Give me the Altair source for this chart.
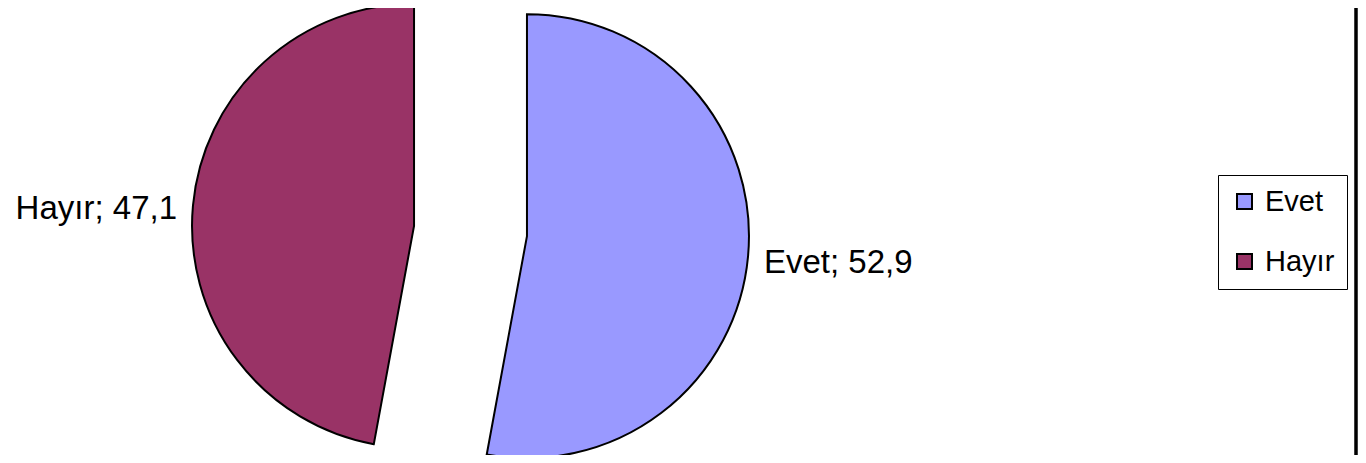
import altair as alt
import pandas as pd

categories = ["Evet", "Hayır"]
values = [52.9, 47.1]
label_texts = ["Evet; 52,9", "Hayır; 47,1"]
colors = ["#9999FF", "#993366"]
order = [0, 1]

W, H = 1350, 447
CX, CY = 462.5, 223
EXPLODE = 56.7
R = 222
LABEL_R = EXPLODE + 238
FONT = "Liberation Sans"

df = pd.DataFrame({"cat": categories, "value": values, "label": label_texts, "order": order})

base = (
    alt.Chart(df)
    .transform_window(cum="sum(value)", sort=[alt.SortField("order")], frame=[None, 0])
    .transform_joinaggregate(total="sum(value)")
    .transform_calculate(
        t1="datum.cum / datum.total * 2 * PI",
        t0="(datum.cum - datum.value) / datum.total * 2 * PI",
    )
    .transform_calculate(mid="(datum.t0 + datum.t1) / 2")
    .transform_calculate(
        px=f"{CX} + {EXPLODE} * sin(datum.mid)",
        py=f"{CY} - {EXPLODE} * cos(datum.mid)",
        lx=f"{CX} + {LABEL_R} * sin(datum.mid)",
        ly=f"{CY} - {LABEL_R} * cos(datum.mid) + 15",
        side="sin(datum.mid) >= 0 ? 'right' : 'left'",
    )
)

color = alt.Color(
    "cat:N",
    scale=alt.Scale(domain=categories, range=colors),
    legend=alt.Legend(
        orient="none",
        legendX=1210,
        legendY=167,
        title=None,
        strokeColor="black",
        fillColor="transparent",
        zindex=0,
        padding=12,
        symbolType="square",
        symbolSize=225,
        symbolStrokeColor="black",
        symbolStrokeWidth=2,
        symbolOpacity=1,
        labelFontSize=29,
        labelFont=FONT,
        labelColor="black",
        rowPadding=30,
        labelOffset=6,
    ),
)

arcs = base.mark_arc(radius=R, stroke="black", strokeWidth=2).encode(
    theta=alt.Theta("t0:Q", scale=None, stack=False),
    theta2="t1:Q",
    x=alt.X("px:Q", scale=None),
    y=alt.Y("py:Q", scale=None),
    color=color,
    order=alt.Order("order:Q"),
)

labels_right = base.transform_filter("datum.side == 'right'").mark_text(
    align="left", baseline="alphabetic", fontSize=33, font=FONT, color="black"
).encode(
    x=alt.X("lx:Q", scale=None),
    y=alt.Y("ly:Q", scale=None),
    text="label:N",
)

labels_left = base.transform_filter("datum.side == 'left'").mark_text(
    align="right", baseline="alphabetic", fontSize=33, font=FONT, color="black"
).encode(
    x=alt.X("lx:Q", scale=None),
    y=alt.Y("ly:Q", scale=None),
    text="label:N",
)

border = alt.Chart(df).mark_rule(color="black", strokeWidth=3).encode(
    x=alt.value(W - 2),
    y=alt.value(0),
    y2=alt.value(H),
)

chart = (
    alt.layer(arcs, labels_right, labels_left, border)
    .properties(width=W, height=H, padding=0, autosize=alt.AutoSizeParams(type="none"))
    .configure_view(strokeWidth=0)
)

chart.save("out.html", embed_options={"renderer": "svg", "actions": False})
